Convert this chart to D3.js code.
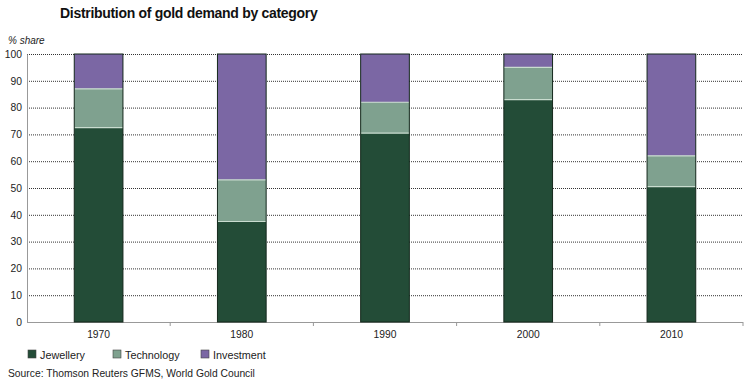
<!DOCTYPE html>
<html><head><meta charset="utf-8">
<script src="https://cdn.jsdelivr.net/npm/d3@7"></script>
<style>body{margin:0;background:#fff}svg{display:block;font-family:"Liberation Sans",Arial,sans-serif}</style>
</head><body><svg id="c" width="750" height="385"></svg>
<script>
const years = ["1970","1980","1990","2000","2010"];
const seriesNames = ["Jewellery","Technology","Investment"];
const jewellery = [72.5, 37.5, 70.5, 83, 50.5];
const technology = [14.5, 15.5, 11.5, 12, 11.5];
const investment = [13, 47, 18, 5, 38];
const yTicks = [0,10,20,30,40,50,60,70,80,90,100];
const colors = ["#234c37","#7fa18f","#7b67a4"];

const rows = years.map((y,i)=>({year:y, Jewellery:jewellery[i], Technology:technology[i], Investment:investment[i]}));
const stack = d3.stack().keys(seriesNames)(rows);

const svg = d3.select("#c");
const L=27, R=743, T=54, B=322;
const x = d3.scaleBand().domain(years).range([L,R]).paddingInner(0.66).paddingOuter(0.33);
const y = d3.scaleLinear().domain([0,100]).range([B,T]);

svg.append("text").attr("x",60).attr("y",18).attr("font-size",14).attr("font-weight","bold").attr("letter-spacing",-0.3).attr("fill","#111").text("Distribution of gold demand by category");
svg.append("text").attr("x",8).attr("y",44).attr("font-size",10).attr("font-style","italic").attr("fill","#222").text("% share");

// gridlines
svg.append("g").selectAll("line").data(yTicks.filter(t=>t>0)).join("line")
  .attr("x1",L).attr("x2",R).attr("y1",d=>y(d)+0.5).attr("y2",d=>y(d)+0.5)
  .attr("stroke","#333").attr("stroke-width",1).attr("stroke-dasharray","1,1");

// y axis
const ya = svg.append("g").attr("transform",`translate(${L},0)`).call(d3.axisLeft(y).tickValues(yTicks).tickSize(0).tickPadding(5));
ya.select(".domain").attr("stroke","#999");
ya.selectAll("text").attr("font-size",10.3).attr("fill","#222").attr("font-family","Liberation Sans, Arial, sans-serif");

// x axis
const step = x.step();
const xa = svg.append("g").attr("transform",`translate(0,${B})`).call(d3.axisBottom(x).tickSize(0).tickPadding(9));
xa.select(".domain").remove();
xa.selectAll("text").attr("font-size",10.3).attr("fill","#222").attr("font-family","Liberation Sans, Arial, sans-serif");
svg.append("line").attr("x1",L).attr("x2",R).attr("y1",B+0.5).attr("y2",B+0.5).attr("stroke","#999");
svg.append("g").selectAll("line").data(years).join("line")
  .attr("x1",d=>x(d)-x.paddingOuter()*step+step).attr("x2",d=>x(d)-x.paddingOuter()*step+step)
  .attr("y1",B).attr("y2",B+4).attr("stroke","#999");

// bars
const g = svg.append("g");
g.selectAll("g").data(stack).join("g").attr("fill",(d,i)=>colors[i])
  .selectAll("rect").data(d=>d).join("rect")
  .attr("x",d=>x(d.data.year)).attr("width",x.bandwidth())
  .attr("y",d=>y(d[1])).attr("height",d=>y(d[0])-y(d[1]));
// separators
g.selectAll("line.sep").data(stack.slice(0,2).flatMap(s=>s)).join("line").attr("class","sep")
  .attr("x1",d=>x(d.data.year)).attr("x2",d=>x(d.data.year)+x.bandwidth())
  .attr("y1",d=>y(d[1])).attr("y2",d=>y(d[1])).attr("stroke","#c9dccf").attr("stroke-width",1.2);
g.selectAll("rect.outline").data(rows).join("rect").attr("class","outline")
  .attr("x",d=>x(d.year)).attr("width",x.bandwidth()).attr("y",y(100)).attr("height",y(0)-y(100))
  .attr("fill","none").attr("stroke","#14281c").attr("stroke-width",1);

// legend
const lx=[28,113,201];
const lg = svg.append("g").selectAll("g").data(seriesNames).join("g").attr("transform",(d,i)=>`translate(${lx[i]},350)`);
lg.append("rect").attr("width",8).attr("height",8).attr("fill",(d,i)=>colors[i]).attr("stroke","#444").attr("stroke-width",0.6);
lg.append("text").attr("x",12).attr("y",8.5).attr("font-size",10.8).attr("fill","#222").text(d=>d);

svg.append("text").attr("x",8).attr("y",377).attr("font-size",10.3).attr("fill","#222").text("Source: Thomson Reuters GFMS, World Gold Council");
</script></body></html>
